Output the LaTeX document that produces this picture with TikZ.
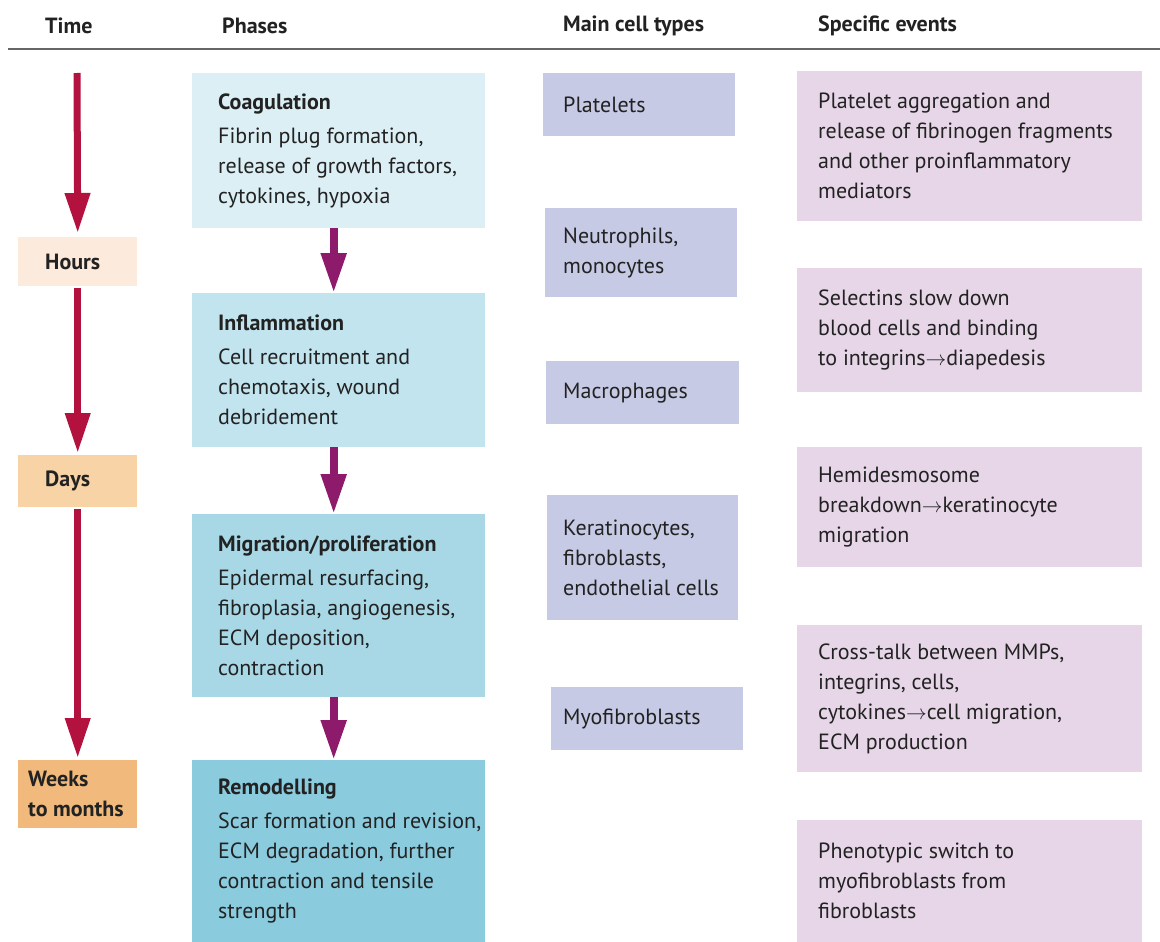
\documentclass[tikz,border=0pt]{standalone}
\usepackage{fontspec}
\setmainfont{PT Sans}
\usetikzlibrary{arrows.meta}
\definecolor{txtc}{HTML}{222222}
\definecolor{ph1}{HTML}{DCEFF5}
\definecolor{ph2}{HTML}{C2E4EE}
\definecolor{ph3}{HTML}{A8D8E6}
\definecolor{ph4}{HTML}{8ACBDE}
\definecolor{cellc}{HTML}{C6CAE5}
\definecolor{evc}{HTML}{E6D6E8}
\definecolor{hrc}{HTML}{FCEBDC}
\definecolor{dyc}{HTML}{F8D3A6}
\definecolor{wkc}{HTML}{F1BA7C}
\definecolor{tarr}{HTML}{B3123F}
\definecolor{parr}{HTML}{8E1A6C}
\begin{document}
\begin{tikzpicture}[x=1pt,y=-1pt,
  box/.style={draw=none,inner sep=0pt,anchor=north west},
  txt/.style={anchor=west,align=left,inner sep=0pt,text=txtc,font=\fontsize{22}{30}\selectfont},
  btxt/.style={txt,font=\fontsize{22}{30}\selectfont\bfseries},
  hdr/.style={anchor=west,inner sep=0pt,text=txtc,font=\fontsize{22}{26}\selectfont\bfseries},
  tarrow/.style={draw=tarr,line width=7pt,-{Triangle[width=24pt,length=40pt]}},
  parrow/.style={draw=parr,line width=8pt,-{Triangle[width=24pt,length=40pt]}}
]
\useasboundingbox[fill=white] (0,0) rectangle (1160,942);

% header
\node[hdr] (hTime) at (45,26) {Time};
\node[hdr] (hPhase) at (222,26) {Phases};
\node[hdr] (hCell) at (563,26) {Main cell types};
\node[hdr] (hEvent) at (818,26) {Specific events};
\draw[draw=black!60,line width=1.5pt] (8,49) -- (1160,49);

% time boxes
\node[box,fill=hrc,minimum width=119pt,minimum height=49pt] (hours) at (18,237) {};
\node[box,fill=dyc,minimum width=119pt,minimum height=52pt] (days) at (18,455) {};
\node[box,fill=wkc,minimum width=119pt,minimum height=68pt] (weeks) at (18,760) {};
\node[btxt] (hoursT) at ([xshift=27pt]hours.west) {Hours};
\node[btxt] (daysT) at ([xshift=27pt]days.west) {Days};
\node[btxt] (weeksT) at ([xshift=10pt]weeks.west) {Weeks\\to months};

\coordinate (tstart) at (77,73);
\draw[tarrow,shorten >=4pt] (tstart) -- (hours.north);
\draw[tarrow,shorten >=2pt,shorten <=2pt] (hours.south) -- (days.north);
\draw[tarrow,shorten >=2pt,shorten <=2pt] (days.south) -- (weeks.north);

% phases
\node[box,fill=ph1,minimum width=293pt,minimum height=155pt] (coag) at (192,73) {};
\node[box,fill=ph2,minimum width=293pt,minimum height=154pt] (infl) at (192,293) {};
\node[box,fill=ph3,minimum width=293pt,minimum height=183pt] (migr) at (192,514) {};
\node[box,fill=ph4,minimum width=293pt,minimum height=182pt] (remo) at (192,760) {};
\node[txt] (coagT) at ([xshift=26pt]coag.west) {\textbf{Coagulation}\\[4pt]Fibrin plug formation,\\release of growth factors,\\cytokines, hypoxia};
\node[txt] (inflT) at ([xshift=26pt]infl.west) {\textbf{Inflammation}\\[4pt]Cell recruitment and\\chemotaxis, wound\\debridement};
\node[txt] (migrT) at ([xshift=26pt]migr.west) {\textbf{Migration/proliferation}\\[4pt]Epidermal resurfacing,\\fibroplasia, angiogenesis,\\ECM deposition,\\contraction};
\node[txt] (remoT) at ([xshift=26pt]remo.west) {\textbf{Remodelling}\\[4pt]Scar formation and revision,\\ECM degradation, further\\contraction and tensile\\strength};

\draw[parrow] ([xshift=-5pt]coag.south) -- ([xshift=-5pt]infl.north);
\draw[parrow] ([xshift=-5pt]infl.south) -- ([xshift=-5pt]migr.north);
\draw[parrow] ([xshift=-5pt]migr.south) -- ([xshift=-5pt]remo.north);

% main cell types
\node[box,fill=cellc,minimum width=192pt,minimum height=63pt] (plat) at (543,73) {};
\node[box,fill=cellc,minimum width=192pt,minimum height=89pt] (neut) at (545,208) {};
\node[box,fill=cellc,minimum width=193pt,minimum height=63pt] (macr) at (546,361) {};
\node[box,fill=cellc,minimum width=191pt,minimum height=125pt] (kera) at (547,495) {};
\node[box,fill=cellc,minimum width=192pt,minimum height=63pt] (myof) at (551,687) {};
\node[txt] (platT) at ([xshift=20pt]plat.west) {Platelets};
\node[txt] (neutT) at ([xshift=18pt]neut.west) {Neutrophils,\\monocytes};
\node[txt] (macrT) at ([xshift=17pt]macr.west) {Macrophages};
\node[txt] (keraT) at ([xshift=16pt]kera.west) {Keratinocytes,\\fibroblasts,\\endothelial cells};
\node[txt] (myofT) at ([xshift=12pt]myof.west) {Myofibroblasts};

% specific events
\node[box,fill=evc,minimum width=345pt,minimum height=150pt] (ev1) at (797,71) {};
\node[box,fill=evc,minimum width=345pt,minimum height=124pt] (ev2) at (797,268) {};
\node[box,fill=evc,minimum width=345pt,minimum height=120pt] (ev3) at (797,447) {};
\node[box,fill=evc,minimum width=345pt,minimum height=147pt] (ev4) at (797,625) {};
\node[box,fill=evc,minimum width=345pt,minimum height=122pt] (ev5) at (797,820) {};
\node[txt] (ev1T) at ([xshift=21pt]ev1.west) {Platelet aggregation and\\release of fibrinogen fragments\\and other proinflammatory\\mediators};
\node[txt] (ev2T) at ([xshift=21pt]ev2.west) {Selectins slow down\\blood cells and binding\\to integrins$\rightarrow$diapedesis};
\node[txt] (ev3T) at ([xshift=21pt]ev3.west) {Hemidesmosome\\breakdown$\rightarrow$keratinocyte\\migration};
\node[txt] (ev4T) at ([xshift=21pt]ev4.west) {Cross-talk between MMPs,\\integrins, cells,\\cytokines$\rightarrow$cell migration,\\ECM production};
\node[txt] (ev5T) at ([xshift=21pt]ev5.west) {Phenotypic switch to\\myofibroblasts from\\fibroblasts};
\end{tikzpicture}
\end{document}
